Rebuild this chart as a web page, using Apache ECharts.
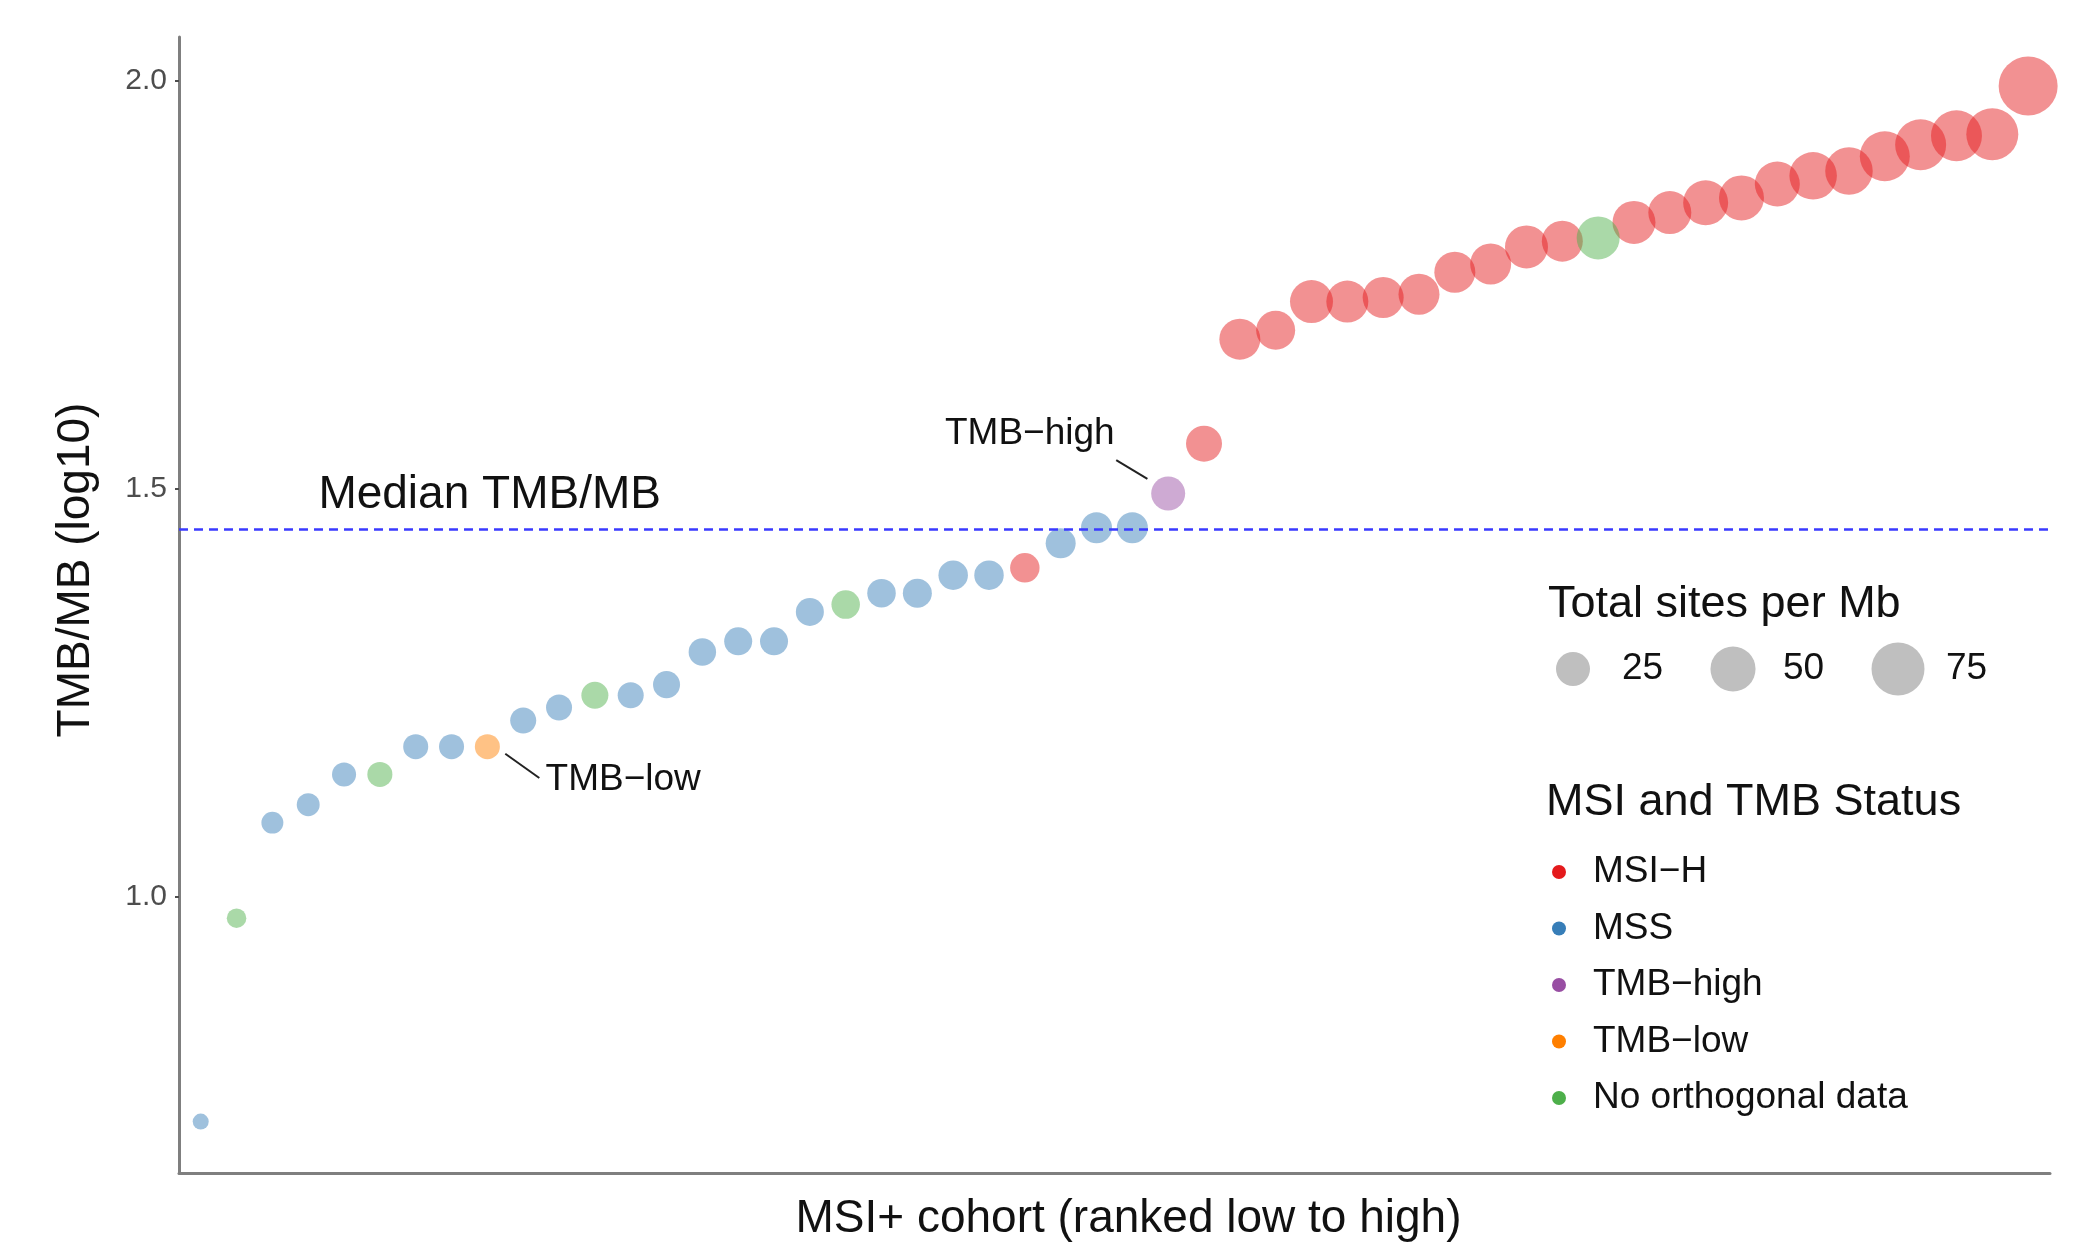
<!DOCTYPE html>
<html>
<head>
<meta charset="utf-8">
<title>TMB/MB in the MSI+ cohort</title>
<script src="https://cdn.jsdelivr.net/npm/echarts@6/dist/echarts.min.js"></script>
<style>
  html, body { margin: 0; padding: 0; background: #fff; }
  #chart { width: 2078px; height: 1252px; }
</style>
</head>
<body>
<div id="chart"></div>
<script>
var statusNames = ["MSI\u2212H", "MSS", "TMB\u2212high", "TMB\u2212low", "No orthogonal data"];
var statusColors = ["#e41a1c", "#377eb8", "#984ea3", "#ff7f00", "#4daf4a"];

// log10 TMB per Mb, samples ranked low to high
var tmbValues = [
  0.725, 0.974, 1.091, 1.113, 1.150, 1.150, 1.184, 1.184, 1.184, 1.216,
  1.232, 1.247, 1.247, 1.260, 1.300, 1.313, 1.313, 1.349, 1.358, 1.372,
  1.372, 1.394, 1.394, 1.403, 1.433, 1.452, 1.452, 1.494, 1.555, 1.683,
  1.694, 1.729, 1.729, 1.734, 1.738, 1.765, 1.775, 1.796, 1.803, 1.807,
  1.826, 1.838, 1.850, 1.856, 1.873, 1.883, 1.889, 1.907, 1.921, 1.932,
  1.934, 1.993
];

// total sites per Mb (point size)
var sitesPerMb = [
  9.5, 10.1, 11.2, 11.8, 12.6, 13.4, 13.4, 13.4, 13.4, 14.3,
  14.3, 15.3, 14.3, 15.3, 15.8, 16.4, 16.4, 16.4, 17.0, 17.0,
  17.6, 18.2, 18.2, 18.2, 18.9, 20.3, 20.3, 25.0, 28.6, 39.4,
  34.8, 44.4, 41.9, 39.4, 39.4, 39.4, 39.4, 44.4, 39.4, 44.4,
  44.4, 44.4, 49.8, 49.8, 49.8, 57.0, 57.0, 64.8, 68.1, 68.1,
  71.5, 98.0
];

// index into statusNames
var sampleStatus = [
  1, 4, 1, 1, 1, 4, 1, 1, 3, 1,
  1, 4, 1, 1, 1, 1, 1, 1, 4, 1,
  1, 1, 1, 0, 1, 1, 1, 2, 0, 0,
  0, 0, 0, 0, 0, 0, 0, 0, 0, 4,
  0, 0, 0, 0, 0, 0, 0, 0, 0, 0,
  0, 0
];

var sizeBreaks = [25, 50, 75];
var medianTmb = 1.452;

var FONT = "'Liberation Sans', Arial, Helvetica, sans-serif";
var chart = echarts.init(document.getElementById("chart"));

var vMin = Math.min.apply(null, sitesPerMb),
  vMax = Math.max.apply(null, sitesPerMb);

// area scale like ggplot's scale_size
function sizeOf(v) {
  var t = Math.max(0, (v - vMin) / (vMax - vMin));
  return 16 + 43 * Math.sqrt(t);
}

function hexToRgba(hex, a) {
  var n = parseInt(hex.slice(1), 16);
  return "rgba(" + (n >> 16) + "," + ((n >> 8) & 255) + "," + (n & 255) + "," + a + ")";
}

var series = statusNames.map(function(name, k) {
  var pts = [];
  tmbValues.forEach(function(v, i) {
    if (sampleStatus[i] === k) pts.push([i + 1, v, sitesPerMb[i]]);
  });
  return {
    name: name,
    type: "scatter",
    data: pts,
    symbol: "circle",
    symbolSize: function(d) {
      return sizeOf(d[2]);
    },
    itemStyle: { color: hexToRgba(statusColors[k], 0.6) },
    emphasis: { disabled: true },
    z: 2
  };
});

function textLabel(text, pos) {
  return {
    show: true,
    position: pos,
    distance: 0,
    formatter: text,
    fontSize: 37,
    fontFamily: FONT,
    color: "#111"
  };
}

// median line and the two point annotations
series.push({
  name: "annotations",
  type: "scatter",
  data: [],
  z: 5,
  markLine: {
    silent: true,
    symbol: ["none", "none"],
    animation: false,
    label: { show: false },
    data: [
      { yAxis: medianTmb, lineStyle: { color: "#3a3aff", width: 2.5, type: [9, 6] } },
      [
        { coord: [26.55, 1.535], lineStyle: { color: "#222", width: 2, type: "solid" } },
        { coord: [27.42, 1.512] }
      ],
      [
        { coord: [9.5, 1.1753], lineStyle: { color: "#222", width: 2, type: "solid" } },
        { coord: [10.45, 1.1456] }
      ]
    ]
  },
  markPoint: {
    silent: true,
    animation: false,
    symbol: "circle",
    symbolSize: 1,
    itemStyle: { color: "rgba(0,0,0,0)" },
    data: [
      {
        coord: [4.27, 1.4913],
        label: { show: true, position: "right", distance: 0, formatter: "Median TMB/MB",
          fontSize: 46, fontFamily: FONT, color: "#111" }
      },
      { coord: [26.52, 1.567], label: textLabel("TMB\u2212high", "left") },
      { coord: [10.61, 1.144], label: textLabel("TMB\u2212low", "right") }
    ]
  }
});

// size legend (Total sites per Mb)
var sizeLegendX = [1573, 1733, 1898],
  sizeLabelX = [1622, 1783, 1946];
var graphics = [
  {
    type: "text", left: 1548, top: 582,
    style: { text: "Total sites per Mb", fontSize: 45, fontFamily: FONT, fill: "#111" }
  },
  {
    type: "text", left: 1546, top: 780,
    style: { text: "MSI and TMB Status", fontSize: 45, fontFamily: FONT, fill: "#111" }
  }
];
sizeBreaks.forEach(function(b, i) {
  graphics.push({
    type: "circle",
    shape: { cx: sizeLegendX[i], cy: 669, r: sizeOf(b) / 2 },
    style: { fill: "#bfbfbf" }
  });
  graphics.push({
    type: "text",
    x: sizeLabelX[i], y: 669,
    style: { text: String(b), fontSize: 37, fontFamily: FONT, fill: "#111", verticalAlign: "middle" }
  });
});

var option = {
  animation: false,
  backgroundColor: "#fff",
  grid: { left: 179, right: 28, top: 37, bottom: 79, containLabel: false },
  xAxis: {
    type: "value",
    min: 0.394,
    max: 52.61,
    splitLine: { show: false },
    axisTick: { show: false },
    axisLabel: { show: false },
    axisLine: { show: true, lineStyle: { color: "#7f7f7f", width: 3 } },
    name: "MSI+ cohort (ranked low to high)",
    nameLocation: "middle",
    nameGap: 23,
    nameTextStyle: { fontSize: 46, fontFamily: FONT, color: "#111", padding: [0, 0, 0, 28] }
  },
  yAxis: {
    type: "value",
    min: 0.662,
    max: 2.053,
    splitLine: { show: false },
    axisLine: { show: true, onZero: false, lineStyle: { color: "#7f7f7f", width: 3 } },
    axisTick: { show: true, length: 4, customValues: [1.0, 1.5, 2.0], lineStyle: { color: "#4d4d4d", width: 2 } },
    axisLabel: {
      customValues: [1.0, 1.5, 2.0],
      formatter: function(v) { return v.toFixed(1); },
      fontSize: 30,
      fontFamily: FONT,
      color: "#4d4d4d",
      margin: 12
    },
    name: "TMB/MB (log10)",
    nameLocation: "middle",
    nameGap: 80,
    nameTextStyle: { fontSize: 46, fontFamily: FONT, color: "#111", padding: [0, 0, 0, 70] }
  },
  legend: {
    orient: "vertical",
    left: 1547,
    top: 845,
    itemWidth: 14,
    itemHeight: 14,
    itemGap: 12.5,
    icon: "circle",
    selectedMode: false,
    textStyle: { fontSize: 37, fontFamily: FONT, color: "#111", lineHeight: 44, padding: [0, 0, 0, 22] },
    data: statusNames.map(function(n, k) {
      return { name: n, itemStyle: { color: statusColors[k], opacity: 1 } };
    })
  },
  graphic: graphics,
  series: series
};

chart.setOption(option);
</script>
</body>
</html>
